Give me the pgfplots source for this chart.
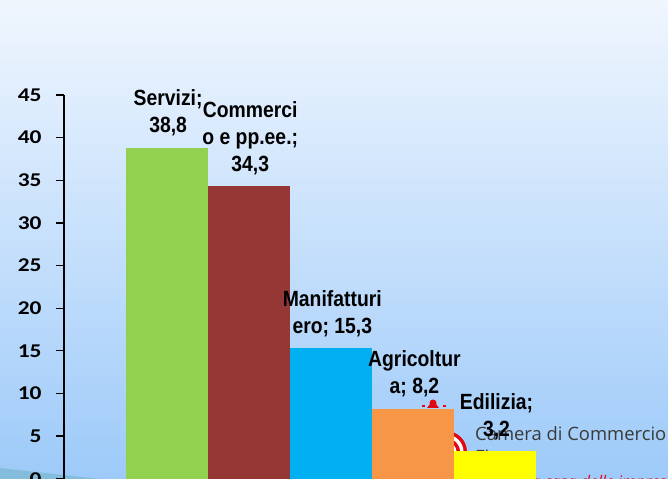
\documentclass[border=0pt]{standalone}
\usepackage{fontspec}
\setmainfont{Liberation Sans}
\newfontfamily\lab[FakeStretch=0.88]{Liberation Sans}
\newfontfamily\tickf[FakeStretch=1.2, UprightFont={* Bold}]{Carlito}
\newfontfamily\logof{Open Sans}
\usepackage{pgfplots}
\pgfplotsset{compat=1.18}
\definecolor{bgTop}{HTML}{F0F6FE}
\definecolor{bgBot}{HTML}{9DCAF9}
\definecolor{stripe}{HTML}{84BCDC}
\definecolor{cG}{HTML}{92D050}
\definecolor{cR}{HTML}{953735}
\definecolor{cB}{HTML}{00B0F0}
\definecolor{cO}{HTML}{F79646}
\definecolor{cY}{HTML}{FFFF00}
\definecolor{logored}{HTML}{E30613}
\definecolor{logogray}{HTML}{3A3A3A}
\begin{document}
\begin{tikzpicture}
\useasboundingbox (0,0) rectangle (668bp,479bp);
\clip (0,0) rectangle (668bp,479bp);
\shade[top color=bgTop, bottom color=bgBot] (0,0) rectangle (668bp,479bp);
\fill[stripe] (0,11bp) -- (100bp,0) -- (0,0) -- cycle;
% logo (background)
\fill[logored] (446bp,27bp) circle (21bp);
\fill[white] (446bp,27bp) circle (17.5bp);
\fill[logored] (446bp,27bp) circle (14bp);
\fill[white] (446bp,27bp) circle (10.5bp);
\fill[logored] (446bp,27bp) circle (7bp);
\fill[logored] (427bp,71bp) -- (433bp,79bp) -- (439bp,71bp) -- cycle;
\fill[logored] (433bp,76bp) circle (3.5bp);
\fill[logored] (422bp,72bp) rectangle (425bp,74bp);
\fill[logored] (443bp,72bp) rectangle (446bp,74bp);
\node[anchor=base west, inner sep=0pt, text=logogray, font=\logof\fontsize{18.4bp}{22bp}\selectfont] at (475bp,39bp) {Camera di Commercio};
\node[anchor=base west, inner sep=0pt, text=logogray, font=\logof\fontsize{18.4bp}{22bp}\selectfont] at (475bp,16bp) {Firenze};
\node[anchor=base west, inner sep=0pt, text=logored, font=\logof\itshape\fontsize{16bp}{20bp}\selectfont] at (527bp,-8.3bp) {la casa delle imprese};
\begin{axis}[
  at={(64bp,0.3bp)}, anchor=south west,
  x=82.1bp, y=8.527bp,
  xmin=-1.25, xmax=5.25, ymin=0, ymax=45,
  enlargelimits=false,
  hide x axis,
  axis y line*=left,
  y axis line style={line width=1.5bp, black},
  ytick={0,5,...,45},
  tick align=outside,
  major tick length=8bp,
  ytick style={line width=1.3bp, black},
  /pgf/number format/assume math mode=true,
  yticklabel style={font=\tickf\fontsize{19.5bp}{24bp}\selectfont, anchor=east, inner sep=0pt, xshift=-14.3bp},
  ybar, bar width=82bp,
  every node near coord/.append style={align=center, anchor=south, inner sep=0pt, yshift=11.5bp, xshift=1.5bp, text=black, font=\lab\bfseries\fontsize{22bp}{27bp}\selectfont},
  clip=false,
]
\addplot[fill=cG, draw=none, bar shift=0pt, nodes near coords={Servizi;\\38,8}] coordinates {(0,38.8)};
\addplot[fill=cR, draw=none, bar shift=0pt, nodes near coords={Commerci\\o e pp.ee.;\\34,3}] coordinates {(1,34.3)};
\addplot[fill=cB, draw=none, bar shift=0pt, nodes near coords={Manifatturi\\ero; 15,3}] coordinates {(2,15.3)};
\addplot[fill=cO, draw=none, bar shift=0pt, nodes near coords={Agricoltur\\a; 8,2}] coordinates {(3,8.2)};
\addplot[fill=cY, draw=none, bar shift=0pt, nodes near coords={Edilizia;\\3,2}] coordinates {(4,3.2)};
\end{axis}
\end{tikzpicture}
\end{document}
